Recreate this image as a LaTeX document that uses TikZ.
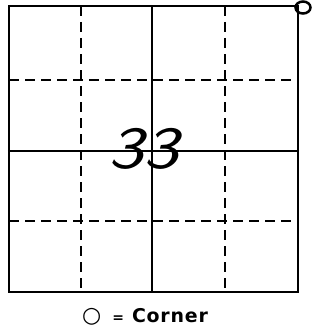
\documentclass[tikz,border=0pt]{standalone}
\usepackage{fontspec}
\usetikzlibrary{shapes.geometric}
\newfontfamily\labfont{DejaVu Sans}
\begin{document}
\begin{tikzpicture}[x=1bp,y=1bp,
  solidline/.style={line width=2bp, line cap=round},
  dashline/.style={line width=2bp, dash pattern=on 10bp off 6bp},
  lab/.style={font=\labfont\bfseries\fontsize{19}{21}\selectfont, inner sep=0pt}]
\useasboundingbox (0,0) rectangle (321,330);
% corners of square (y flipped: 330 - ypx)
\coordinate (bl) at (9,38);
\coordinate (br) at (298,38);
\coordinate (tl) at (9,324);
\coordinate (tr) at (298,324);
% midpoints
\coordinate (tm) at (152,324);
\coordinate (bm) at (152,38);
\coordinate (lm) at (9,179);
\coordinate (rm) at (298,179);
% dashed line ends
\coordinate (t1) at (81,324); \coordinate (b1) at (81,38);
\coordinate (t3) at (225,324); \coordinate (b3) at (225,38);
\coordinate (l1) at (9,250); \coordinate (r1) at (298,250);
\coordinate (l3) at (9,109); \coordinate (r3) at (298,109);
\draw[dashline] (t1) -- (b1);
\draw[dashline] (t3) -- (b3);
\draw[dashline] (l1) -- (r1);
\draw[dashline] (l3) -- (r3);
\draw[solidline] (tl) -- (tr) -- (br) -- (bl) -- cycle;
\draw[solidline] (tm) -- (bm);
\draw[solidline] (lm) -- (rm);
\node[draw, line width=2.5bp, ellipse, inner sep=0pt, minimum width=15bp, minimum height=12bp] (corner) at (303,322.5) {};
\node[font=\sffamily\itshape\fontsize{60}{60}\selectfont, inner sep=0pt, xscale=1.25] (num) at (144,181) {33};
\node[lab, anchor=base west] (legend) at (82,8) {{\fontsize{22}{22}\selectfont ○}\hspace{11bp}{\fontsize{14}{14}\selectfont =}\hspace{8bp}C\hspace{0.8bp}o\hspace{0.8bp}r\hspace{0.8bp}n\hspace{0.8bp}e\hspace{0.8bp}r};
\end{tikzpicture}
\end{document}
